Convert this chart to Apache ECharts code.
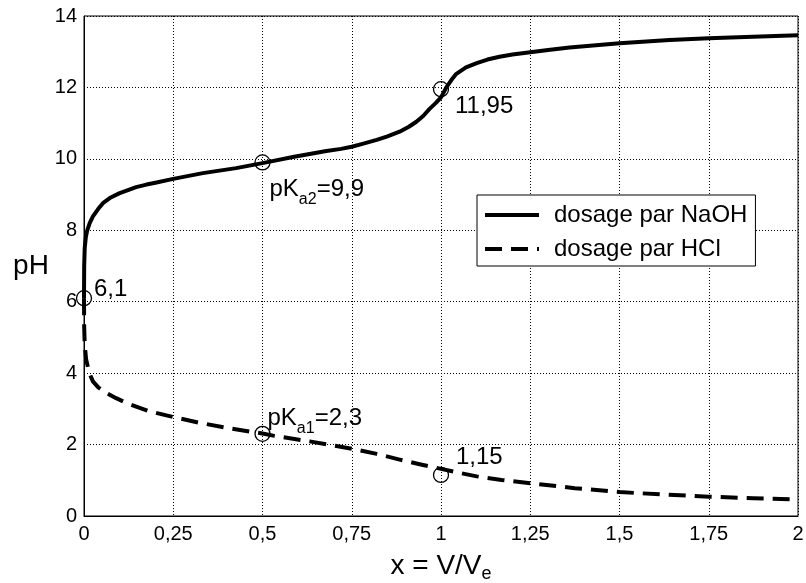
<!DOCTYPE html>
<html>
<head>
<meta charset="utf-8">
<script src="https://cdn.jsdelivr.net/npm/echarts@6/dist/echarts.min.js"></script>
<style>
  html, body { margin: 0; padding: 0; background: #fff; }
  #chart { width: 806px; height: 583px; }
</style>
</head>
<body>
<div id="chart"></div>
<script>
// Titration curves of an amino acid: pH versus x = V/Ve
const seriesNames = ['dosage par NaOH', 'dosage par HCl'];

const naohX  = [0, 0.0005, 0.002, 0.005, 0.009, 0.016, 0.025, 0.04, 0.053, 0.075, 0.1, 0.125, 0.146, 0.175, 0.2, 0.25, 0.333, 0.426, 0.5, 0.585, 0.679, 0.72, 0.75, 0.78, 0.82, 0.85, 0.884, 0.91, 0.931, 0.95, 0.968, 0.985, 1.0, 1.015, 1.03, 1.043, 1.07, 1.1, 1.13, 1.164, 1.2, 1.239, 1.3, 1.36, 1.5, 1.64, 1.75, 1.874, 2.0];
const naohPH = [6.1, 7.0, 7.5, 7.8, 8.0, 8.2, 8.39, 8.6, 8.76, 8.92, 9.04, 9.13, 9.21, 9.28, 9.33, 9.44, 9.6, 9.74, 9.88, 10.05, 10.22, 10.28, 10.34, 10.42, 10.53, 10.63, 10.76, 10.9, 11.04, 11.2, 11.4, 11.56, 11.72, 12.0, 12.22, 12.38, 12.56, 12.68, 12.78, 12.86, 12.92, 12.97, 13.05, 13.12, 13.24, 13.33, 13.38, 13.42, 13.46];

const hclX  = [0, 0.0005, 0.002, 0.006, 0.015, 0.025, 0.04, 0.062, 0.09, 0.118, 0.15, 0.184, 0.25, 0.324, 0.398, 0.5, 0.53, 0.632, 0.753, 0.82, 0.884, 0.94, 1.0, 1.05, 1.1, 1.17, 1.25, 1.375, 1.5, 1.625, 1.75, 1.875, 2.0];
const hclPH = [6.1, 5.3, 4.8, 4.38, 4.0, 3.77, 3.6, 3.45, 3.3, 3.17, 3.05, 2.93, 2.77, 2.61, 2.47, 2.31, 2.25, 2.09, 1.88, 1.74, 1.58, 1.45, 1.32, 1.21, 1.11, 1.01, 0.92, 0.78, 0.67, 0.6, 0.54, 0.5, 0.46];

// Remarkable points (circles): position, and subscript of the pKa they mark
const pointX   = [0, 0.5, 1, 0.5, 1];
const pointPH  = [6.1, 9.9, 11.95, 2.3, 1.15];
const pointSub = ['', 'a2', '', 'a1', ''];

const xTickLabels = ['0', '0,25', '0,5', '0,75', '1', '1,25', '1,5', '1,75', '2'];
const yTickLabels = ['0', '2', '4', '6', '8', '10', '12', '14'];

const FONT = "'Liberation Sans', Arial, Helvetica, sans-serif";

// annotation offset from each circle centre
const labelOffsets = [[10, -9], [7, 27], [14, 17], [5, -15], [15, -18]];

const richText = {
  m: { fontSize: 24, fontFamily: FONT, color: '#000', lineHeight: 26 },
  s: { fontSize: 16, fontFamily: FONT, color: '#000', lineHeight: 16, padding: [20, 0, 0, 0] }
};

const pts = pointX.map((x, i) => {
  const num = String(pointPH[i]).replace('.', ',');
  const text = pointSub[i]
    ? '{m|pK}{s|' + pointSub[i] + '}{m|=' + num + '}'
    : '{m|' + num + '}';
  return {
    value: [x, pointPH[i]],
    label: {
      show: true,
      position: 'inside',
      align: 'left',
      verticalAlign: 'middle',
      offset: labelOffsets[i],
      color: '#000',
      formatter: text,
      rich: richText
    }
  };
});

const chart = echarts.init(document.getElementById('chart'), null, { renderer: 'canvas' });

chart.setOption({
  backgroundColor: '#fff',
  animation: false,
  grid: {
    left: 84, top: 16, width: 714, height: 500,
    outerBoundsMode: 'none', containLabel: false,
    show: true, borderColor: '#000', borderWidth: 1, backgroundColor: 'transparent'
  },
  legend: {
    orient: 'vertical',
    left: 477, top: 195,
    data: seriesNames,
    itemWidth: 54, itemHeight: 14, itemGap: 10,
    padding: [8, 8, 5, 6],
    borderColor: '#000', borderWidth: 1, backgroundColor: '#fff',
    itemStyle: { opacity: 0 },
    lineStyle: { width: 4 },
    textStyle: { fontSize: 24, fontFamily: FONT, color: '#000', lineHeight: 24, padding: [0, 0, 0, 10] }
  },
  xAxis: {
    type: 'value', min: 0, max: 2, interval: 0.25,
    name: '{m|x = V/V}{s|e}',
    nameLocation: 'middle', nameGap: 32,
    nameTextStyle: {
      rich: {
        m: { fontSize: 28, fontFamily: FONT, color: '#000', lineHeight: 28 },
        s: { fontSize: 18, fontFamily: FONT, color: '#000', lineHeight: 18, padding: [16, 0, 0, 0] }
      }
    },
    axisLine: { show: true, lineStyle: { color: '#000', width: 1 } },
    axisTick: { show: false },
    axisLabel: {
      margin: 8, fontSize: 20, fontFamily: FONT, color: '#000',
      formatter: v => xTickLabels[Math.round(v / 0.25)]
    },
    splitLine: { show: true, lineStyle: { color: '#000', width: 1, type: [1, 2] } }
  },
  yAxis: {
    type: 'value', min: 0, max: 14, interval: 2,
    name: 'pH',
    nameLocation: 'middle', nameRotate: 0, nameGap: 35,
    nameTextStyle: { fontSize: 28, fontFamily: FONT, color: '#000', padding: [12, 0, 0, 0] },
    axisLine: { show: true, lineStyle: { color: '#000', width: 1 } },
    axisTick: { show: false },
    axisLabel: {
      margin: 7, fontSize: 20, fontFamily: FONT, color: '#000',
      formatter: v => yTickLabels[Math.round(v / 2)]
    },
    splitLine: { show: true, lineStyle: { color: '#000', width: 1, type: [1, 2] } }
  },
  series: [
    {
      name: seriesNames[0], type: 'line',
      data: naohX.map((x, i) => [x, naohPH[i]]),
      symbol: 'none', smooth: false,
      lineStyle: { color: '#000', width: 4, cap: 'butt', join: 'round' },
      itemStyle: { color: '#000' }
    },
    {
      name: seriesNames[1], type: 'line',
      data: hclX.map((x, i) => [x, hclPH[i]]),
      symbol: 'none', smooth: false,
      lineStyle: { color: '#000', width: 4, type: [17, 9], cap: 'butt', join: 'round' },
      itemStyle: { color: '#000' }
    },
    {
      name: 'points', type: 'scatter',
      data: pts,
      symbol: 'circle', symbolSize: 15,
      itemStyle: { color: 'rgba(0,0,0,0)', borderColor: '#000', borderWidth: 1.3, opacity: 1 },
      z: 5
    }
  ]
});
</script>
</body>
</html>
